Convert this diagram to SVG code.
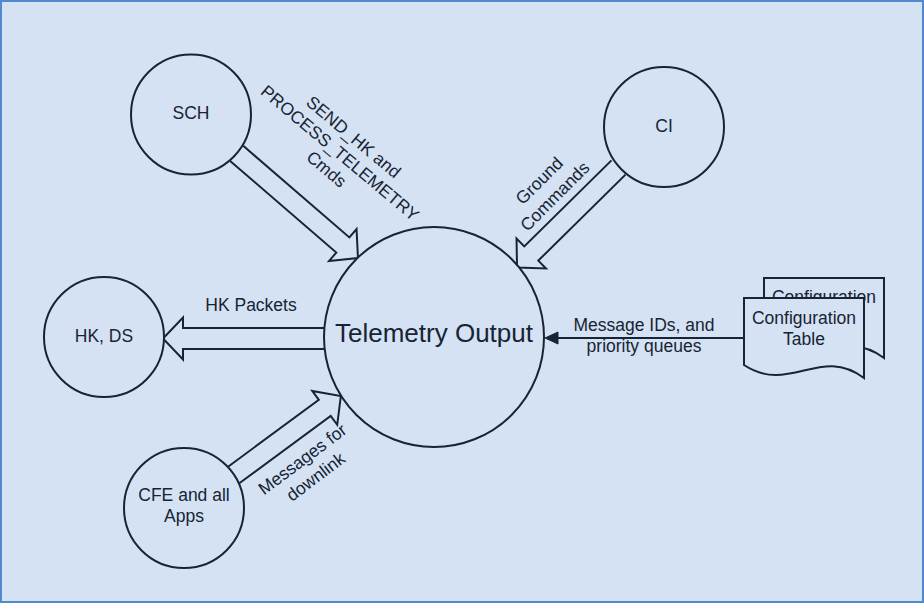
<svg xmlns="http://www.w3.org/2000/svg" width="924" height="603" viewBox="0 0 924 603">
<style>
.bg{fill:#d4e2f3;stroke:#4f8ad0;stroke-width:2}
.node{fill:#d4e2f3;stroke:#172433;stroke-width:2}
.barrow{fill:#d4e2f3;stroke:#172433;stroke-width:2;stroke-linejoin:miter}
.line{fill:none;stroke:#172433;stroke-width:2}
.head{fill:#172433;stroke:#172433;stroke-width:1}
text{font-family:"Liberation Sans",Arial,sans-serif;font-size:17.5px;fill:#172433;text-anchor:middle}
.big{font-size:26px}
</style>
<rect class="bg" x="1" y="1" width="922" height="601"/>

<g id="connectors">
  <g id="sch-to-to" transform="translate(236.7,153.4) rotate(40.8)">
    <path class="barrow" d="M0,-10 L140.2,-10 L140.2,-21 L160.2,0 L140.2,21 L140.2,10 L0,10"/>
  </g>
  <g id="ci-to-to" transform="translate(618.5,167.5) rotate(135.4)">
    <path class="barrow" d="M0,-10 L122.5,-10 L122.5,-21 L142.5,0 L122.5,21 L122.5,10 L0,10"/>
  </g>
  <g id="to-to-hk" transform="translate(325,338.5) rotate(180)">
    <path class="barrow" d="M0,-10.5 L142,-10.5 L142,-21 L162,0 L142,21 L142,10.5 L0,10.5"/>
  </g>
  <g id="cfe-to-to" transform="translate(233,475.5) rotate(-36.4)">
    <path class="barrow" d="M0,-10 L114,-10 L114,-21 L134,0 L114,21 L114,10 L0,10"/>
  </g>
  <g id="cfg-to-to">
    <line class="line" x1="744" y1="338" x2="556" y2="338"/>
    <polygon class="head" points="545,338 558,332 558,344"/>
  </g>
  <g id="connector-labels">
    <g transform="translate(340,153) rotate(40)">
      <text x="0" y="-15">SEND_HK and</text>
      <text x="0" y="6">PROCESS_TELEMETRY</text>
      <text x="0" y="27">Cmds</text>
    </g>
    <g transform="translate(547,188.5) rotate(-45)">
      <text x="0" y="-5">Ground</text>
      <text x="0" y="17">Commands</text>
    </g>
    <text x="251" y="311">HK Packets</text>
    <text x="644" y="331">Message IDs, and</text>
    <text x="644" y="352">priority queues</text>
    <g transform="translate(309,468) rotate(-37)">
      <text x="0" y="-5">Messages for</text>
      <text x="0" y="17">downlink</text>
    </g>
  </g>
</g>

<g id="sch">
  <circle class="node" cx="191" cy="114.5" r="60"/>
  <text x="191" y="119">SCH</text>
</g>
<g id="ci">
  <circle class="node" cx="664" cy="127" r="60"/>
  <text x="664" y="132">CI</text>
</g>
<g id="hkds">
  <circle class="node" cx="104" cy="337" r="60"/>
  <text x="104" y="342">HK, DS</text>
</g>
<g id="cfe">
  <circle class="node" cx="184" cy="508" r="60"/>
  <text x="184" y="501">CFE and all</text>
  <text x="184" y="522">Apps</text>
</g>
<g id="telemetry-output">
  <circle class="node" cx="434" cy="337" r="110"/>
  <text class="big" x="434" y="342">Telemetry Output</text>
</g>
<g id="config-table-back">
  <path class="node" d="M764,278 H884 V358 C840,325 810,375 764,345 Z"/>
  <text x="824" y="303">Configuration</text>
</g>
<g id="config-table">
  <path class="node" d="M744,298 H864 V378 C820,345 790,395 744,365 Z"/>
  <text x="804" y="324">Configuration</text>
  <text x="804" y="345">Table</text>
</g>
</svg>
